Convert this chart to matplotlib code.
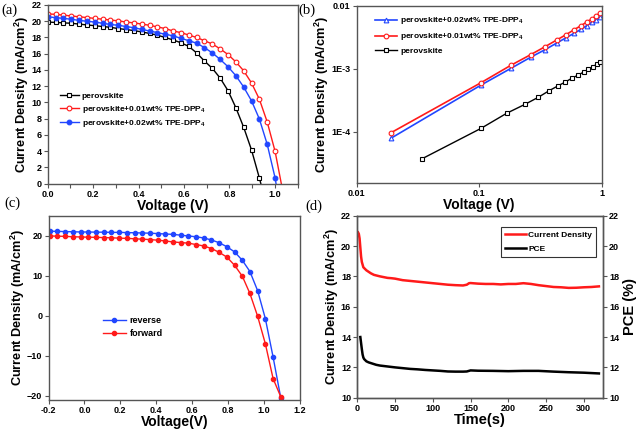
import matplotlib
matplotlib.use("Agg")
import matplotlib.pyplot as plt
import numpy as np
from matplotlib.ticker import MultipleLocator, FixedLocator, FixedFormatter, NullLocator

plt.rcParams['font.family'] = ['Liberation Sans', 'DejaVu Sans']
plt.rcParams['font.weight'] = 'bold'
plt.rcParams['mathtext.fontset'] = 'custom'
plt.rcParams['mathtext.rm'] = 'Liberation Sans:bold'
plt.rcParams['mathtext.it'] = 'Liberation Sans:bold'
plt.rcParams['mathtext.bf'] = 'Liberation Sans:bold'

# ---------------- Panel (a): J-V curves ----------------
a_v = [0.0, 0.0345, 0.069, 0.1035, 0.138, 0.1725, 0.207, 0.2415, 0.276, 0.3105,
       0.345, 0.3795, 0.414, 0.4485, 0.483, 0.5175, 0.552, 0.5865, 0.621, 0.6555,
       0.69, 0.7245, 0.759, 0.7935, 0.828, 0.8625, 0.897, 0.9315, 0.966, 1.0005, 1.035]
a_perov = [19.9, 19.85, 19.8, 19.75, 19.65, 19.55, 19.45, 19.35, 19.25, 19.1,
           18.98, 18.85, 18.68, 18.5, 18.28, 18.0, 17.7, 17.35, 16.9, 16.1,
           15.1, 14.2, 13.0, 11.45, 9.36, 6.94, 4.15, 0.7, -3.0]
a_001 = [20.9, 20.85, 20.75, 20.65, 20.55, 20.45, 20.35, 20.25, 20.15, 20.05,
         19.9, 19.8, 19.65, 19.5, 19.3, 19.1, 18.8, 18.6, 18.3, 18.0,
         17.6, 17.2, 16.6, 15.9, 15.0, 13.9, 12.4, 10.4, 7.6, 4.0, -1.0]
a_002 = [20.55, 20.45, 20.35, 20.25, 20.1, 20.0, 19.9, 19.75, 19.6, 19.5,
         19.35, 19.2, 19.0, 18.8, 18.6, 18.4, 18.2, 17.9, 17.6, 17.3,
         16.75, 16.1, 15.3, 14.4, 13.3, 11.9, 10.2, 7.97, 4.85, 0.74, -5.0]
a_labels = ['perovskite', 'perovskite+0.01wt% TPE-DPP$_4$', 'perovskite+0.02wt% TPE-DPP$_4$']

# ---------------- Panel (b): log-log dark current ----------------
b_v_perov = [0.034, 0.1035, 0.1675, 0.2365, 0.304, 0.369, 0.437, 0.505, 0.575,
             0.644, 0.713, 0.778, 0.845, 0.91, 0.975]
b_j_perov = [3.7e-5, 1.13e-4, 1.96e-4, 2.72e-4, 3.52e-4, 4.43e-4, 5.31e-4, 6.15e-4,
             7.12e-4, 7.94e-4, 8.87e-4, 9.77e-4, 1.08e-3, 1.17e-3, 1.28e-3]
b_v_dop = [0.019, 0.1035, 0.181, 0.263, 0.344, 0.43, 0.512, 0.595, 0.678, 0.755,
           0.829, 0.904, 0.975]
b_j_001 = [9.6e-5, 6.0e-4, 1.13e-3, 1.67e-3, 2.23e-3, 2.86e-3, 3.47e-3, 4.16e-3,
           4.82e-3, 5.51e-3, 6.15e-3, 6.94e-3, 7.74e-3]
b_j_002 = [7.85e-5, 5.5e-4, 1.01e-3, 1.52e-3, 2.0e-3, 2.56e-3, 3.1e-3, 3.65e-3,
           4.22e-3, 4.82e-3, 5.45e-3, 6.0e-3, 6.55e-3]
b_labels = ['perovskite+0.02wt% TPE-DPP$_4$', 'perovskite+0.01wt% TPE-DPP$_4$', 'perovskite']

# ---------------- Panel (c): hysteresis ----------------
c_v = [-0.193, -0.150, -0.107, -0.064, -0.021, 0.021, 0.064, 0.107, 0.150, 0.193,
       0.236, 0.279, 0.321, 0.364, 0.407, 0.450, 0.493, 0.536, 0.579, 0.621,
       0.664, 0.707, 0.750, 0.793, 0.836, 0.879, 0.921, 0.964, 1.007, 1.050, 1.093]
c_reverse = [21.2, 21.15, 21.1, 21.05, 21.0, 21.0, 20.95, 20.95, 20.9, 20.9,
             20.85, 20.8, 20.75, 20.7, 20.6, 20.5, 20.4, 20.2, 20.0, 19.8,
             19.5, 19.0, 18.3, 17.3, 16.0, 13.9, 11.1, 6.3, -0.7, -10.3, -20.6]
c_forward = [20.0, 19.95, 19.9, 19.8, 19.75, 19.7, 19.65, 19.6, 19.55, 19.45,
             19.4, 19.3, 19.2, 19.1, 18.95, 18.75, 18.5, 18.35, 18.2, 17.85,
             17.5, 16.85, 15.9, 14.7, 12.65, 9.9, 5.6, -0.1, -7.0, -15.7, -20.3]

# ---------------- Panel (d): stabilised output ----------------
d_t_j = [1, 2, 3, 4, 5, 6, 8, 10, 12, 15, 18, 22, 26, 30, 35, 40, 45, 50, 55, 60,
         70, 80, 90, 100, 110, 120, 130, 140, 145, 148, 150, 160, 170, 180, 190,
         200, 210, 220, 230, 240, 250, 260, 270, 280, 290, 300, 310, 320]
d_j = [20.9, 20.8, 20.5, 19.9, 19.3, 18.95, 18.6, 18.5, 18.4, 18.3, 18.2, 18.1,
       18.05, 18.0, 17.95, 17.9, 17.88, 17.85, 17.8, 17.75, 17.7, 17.65, 17.6,
       17.55, 17.5, 17.45, 17.42, 17.4, 17.45, 17.55, 17.56, 17.52, 17.5, 17.5,
       17.47, 17.5, 17.5, 17.55, 17.5, 17.42, 17.36, 17.3, 17.28, 17.24, 17.25,
       17.28, 17.3, 17.34]
d_t_p = [4, 5, 6, 7, 8, 9, 10, 12, 15, 20, 25, 30, 40, 50, 60, 70, 80, 90, 100,
         110, 120, 130, 140, 145, 150, 160, 180, 200, 220, 240, 260, 280, 300, 320]
d_pce = [14.0, 13.6, 13.2, 12.85, 12.65, 12.55, 12.5, 12.4, 12.33, 12.25, 12.17,
         12.12, 12.06, 12.0, 11.95, 11.9, 11.87, 11.83, 11.8, 11.77, 11.73, 11.72,
         11.72, 11.73, 11.8, 11.78, 11.77, 11.75, 11.77, 11.77, 11.72, 11.68,
         11.65, 11.6]

RED = '#ff1a1a'
BLUE = '#2146ff'
SPINE = '#555555'
TICK_FS = 6.5
LAB_FS = 10
YLAB_FS = 9.2

fig = plt.figure(figsize=(6.4, 4.34), dpi=100)

def style(ax):
    for s in ax.spines.values():
        s.set_color(SPINE)
        s.set_linewidth(1.0)
    ax.tick_params(which='both', direction='out', labelsize=TICK_FS, color=SPINE,
                   length=3, width=0.8, pad=1.5)
    for lab in ax.get_xticklabels() + ax.get_yticklabels():
        lab.set_fontweight('bold')

# ---- (a)
ax = fig.add_axes([0.0745, 0.5767, 0.3906, 0.4118])
ax.plot(a_v[:len(a_perov)], a_perov, '-s', color='black', mfc='white', mec='black',
        ms=3.2, lw=1.0, mew=0.8, label=a_labels[0])
ax.plot(a_v[:len(a_001)], a_001, '-o', color=RED, mfc='white', mec=RED,
        ms=3.4, lw=1.0, mew=0.8, label=a_labels[1])
ax.plot(a_v[:len(a_002)], a_002, '-o', color=BLUE, mfc=BLUE, mec=BLUE,
        ms=3.4, lw=1.0, mew=0.8, label=a_labels[2])
ax.set_xlim(0, 1.1)
ax.set_ylim(0, 22)
ax.xaxis.set_major_locator(MultipleLocator(0.2))
ax.xaxis.set_minor_locator(MultipleLocator(0.1))
ax.yaxis.set_major_locator(MultipleLocator(2))
ax.set_xticklabels([f'{v:.1f}' for v in ax.get_xticks()])
style(ax)
ax.tick_params(which='minor', length=3)
ax.set_xlabel('Voltage (V)', fontsize=LAB_FS, fontweight='bold', labelpad=0)
ax.set_ylabel('Current Density (mA/cm$^2$)', fontsize=YLAB_FS, fontweight='bold', labelpad=0)
leg = ax.legend(loc='upper left', bbox_to_anchor=(0.05, 0.51), frameon=False,
                fontsize=6, handlelength=2.2, handletextpad=0.4, labelspacing=0.4,
                borderpad=0, borderaxespad=0)
for t in leg.get_texts():
    t.set_fontweight('bold')

# ---- (b)
ax = fig.add_axes([0.5573, 0.579, 0.3828, 0.4078])
ax.set_xscale('log')
ax.set_yscale('log')
ax.plot(b_v_dop, b_j_002, '-^', color=BLUE, mfc='white', mec=BLUE, ms=3.4, lw=1.2,
        mew=0.8, label=b_labels[0])
ax.plot(b_v_dop, b_j_001, '-o', color=RED, mfc='white', mec=RED, ms=3.4, lw=1.2,
        mew=0.8, label=b_labels[1])
ax.plot(b_v_perov, b_j_perov, '-s', color='black', mfc='white', mec='black', ms=3.2,
        lw=1.0, mew=0.8, label=b_labels[2])
ax.set_xlim(0.01, 1)
ax.set_ylim(1.55e-5, 0.01)
ax.xaxis.set_major_locator(FixedLocator([0.01, 0.1, 1]))
ax.xaxis.set_major_formatter(FixedFormatter(['0.01', '0.1', '1']))
ax.xaxis.set_minor_locator(NullLocator())
ax.yaxis.set_major_locator(FixedLocator([1e-4, 1e-3, 1e-2]))
ax.yaxis.set_major_formatter(FixedFormatter(['1E-4', '1E-3', '0.01']))
ax.yaxis.set_minor_locator(NullLocator())
style(ax)
ax.set_xlabel('Voltage (V)', fontsize=LAB_FS, fontweight='bold', labelpad=0)
ax.set_ylabel('Current Density (mA/cm$^2$)', fontsize=YLAB_FS, fontweight='bold', labelpad=0)
leg = ax.legend(loc='upper left', bbox_to_anchor=(0.075, 0.945), frameon=False,
                fontsize=6, handlelength=2.6, handletextpad=0.4, labelspacing=0.6,
                borderpad=0, borderaxespad=0)
for t in leg.get_texts():
    t.set_fontweight('bold')

# ---- (c)
ax = fig.add_axes([0.0758, 0.079, 0.393, 0.4233])
ax.plot(c_v, c_reverse, '-o', color=BLUE, mfc=BLUE, mec=BLUE, ms=3.0, lw=1.0,
        label='reverse')
ax.plot(c_v, c_forward, '-o', color=RED, mfc=RED, mec=RED, ms=3.0, lw=1.0,
        label='forward')
ax.set_xlim(-0.2, 1.2)
ax.set_ylim(-21, 25)
ax.yaxis.set_major_locator(FixedLocator([-20, -10, 0, 10, 20]))
ax.set_xticks(np.arange(-0.2, 1.21, 0.2))
ax.set_xticklabels([f'{v:.1f}' for v in np.arange(-0.2, 1.21, 0.2)])
style(ax)
ax.set_xlabel('Voltage(V)', fontsize=LAB_FS, fontweight='bold', labelpad=0)
ax.set_ylabel('Current Density (mA/cm$^2$)', fontsize=YLAB_FS, fontweight='bold', labelpad=0)
leg = ax.legend(loc='upper left', bbox_to_anchor=(0.215, 0.455), frameon=False,
                fontsize=6.5, handlelength=2.6, handletextpad=0.4, labelspacing=0.45,
                borderpad=0, borderaxespad=0)
for t in leg.get_texts():
    t.set_fontweight('bold')

# ---- (d)
ax = fig.add_axes([0.5583, 0.0836, 0.3834, 0.4194])
ax2 = ax.twinx()
l1, = ax.plot(d_t_j, d_j, '-', color=RED, lw=1.8, label='Current Density')
l2, = ax2.plot(d_t_p, d_pce, '-', color='black', lw=1.8, label='PCE')
for a_ in (ax, ax2):
    a_.set_xlim(0, 325)
    a_.set_ylim(10, 22)
    a_.yaxis.set_major_locator(MultipleLocator(2))
ax.xaxis.set_major_locator(MultipleLocator(50))
style(ax)
style(ax2)
ax.set_xlabel('Time(s)', fontsize=LAB_FS + 0.5, fontweight='bold', labelpad=0)
ax.set_ylabel('Current Density (mA/cm$^2$)', fontsize=YLAB_FS, fontweight='bold', labelpad=0)
ax2.set_ylabel('PCE (%)', fontsize=LAB_FS + 0.5, fontweight='bold', labelpad=3)
leg = ax2.legend(handles=[l1, l2], loc='upper right', bbox_to_anchor=(0.973, 0.936),
                 frameon=True, fancybox=False, fontsize=6, handlelength=2.6,
                 handletextpad=0.2, labelspacing=0.7, borderpad=0.5, borderaxespad=0)
leg.get_frame().set_edgecolor('black')
leg.get_frame().set_linewidth(0.8)
for t in leg.get_texts():
    t.set_fontweight('bold')

# ---- panel labels
for lbl, x, y in [('(a)', 9, 10), ('(b)', 307, 10), ('(c)', 12, 203), ('(d)', 314, 206)]:
    fig.text(x / 640, 1 - y / 434, lbl, fontsize=10.5,
             family=['Liberation Serif', 'DejaVu Serif'],
             fontweight='normal', ha='center', va='center')

fig.savefig('out.png', dpi=100)
